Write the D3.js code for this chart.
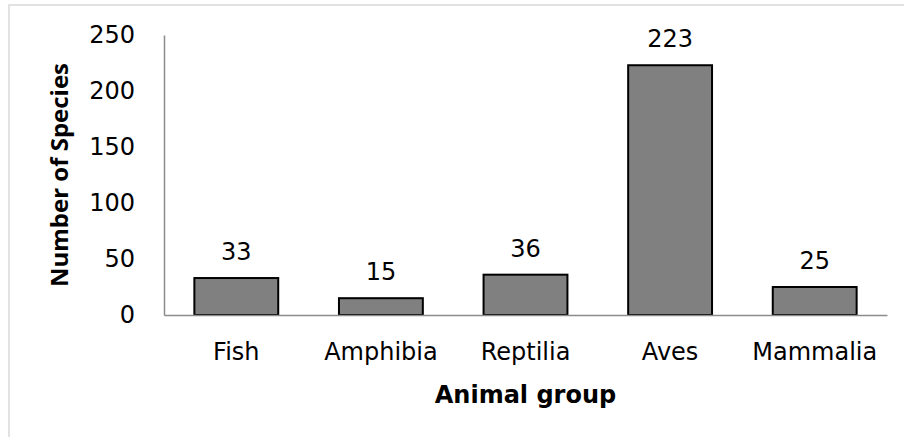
<!DOCTYPE html>
<html>
<head>
<meta charset="utf-8">
<script src="https://cdn.jsdelivr.net/npm/d3@7"></script>
<style>
  html, body { margin: 0; padding: 0; background: #ffffff; }
  svg { display: block; }
</style>
</head>
<body>
<div id="chart"></div>
<script>
// ---- data ----
const categories = ["Fish", "Amphibia", "Reptilia", "Aves", "Mammalia"];
const speciesCounts = [33, 15, 36, 223, 25];
const yTicks = [0, 50, 100, 150, 200, 250];
const xTitle = "Animal group";
const yTitle = "Number of Species";

// ---- layout ----
const W = 904, H = 437;
const plot = { left: 164, right: 887, top: 35, bottom: 315 };
const font = "'DejaVu Sans', sans-serif";
const fs = 24;

const svg = d3.select("#chart").append("svg")
  .attr("width", W).attr("height", H);

svg.append("rect").attr("width", W).attr("height", H).attr("fill", "#fff");

// chart-area frame (only top and left edges visible)
svg.append("rect")
  .attr("x", 9).attr("y", 5)
  .attr("width", W + 20).attr("height", H + 20)
  .attr("fill", "none").attr("stroke", "#d9d9d9").attr("stroke-width", 1.5);

const x = d3.scaleBand()
  .domain(categories)
  .range([plot.left, plot.right])
  .paddingInner(0.42)
  .paddingOuter(0.21);

const y = d3.scaleLinear()
  .domain([0, 250])
  .range([plot.bottom, plot.top]);

// y axis: line + labels, no ticks
const yAxis = d3.axisLeft(y).tickValues(yTicks).tickSize(0).tickPadding(29).tickFormat(d3.format("d"));
const gy = svg.append("g").attr("transform", `translate(${plot.left},0)`).call(yAxis);
gy.select(".domain").attr("stroke", "#8c8c8c").attr("stroke-width", 1.5);
gy.selectAll("text")
  .attr("font-family", font).attr("font-size", fs).attr("fill", "#000");

// bars
const data = categories.map((c, i) => ({ c, v: speciesCounts[i] }));
svg.append("g").selectAll("rect").data(data).join("rect")
  .attr("x", d => x(d.c))
  .attr("y", d => y(d.v))
  .attr("width", x.bandwidth())
  .attr("height", d => y(0) - y(d.v))
  .attr("fill", "#808080")
  .attr("stroke", "#000")
  .attr("stroke-width", 2);

// x axis: line + labels
const xAxis = d3.axisBottom(x).tickSize(0).tickPadding(28);
const gx = svg.append("g").attr("transform", `translate(0,${plot.bottom})`).call(xAxis);
gx.select(".domain").attr("stroke", "#8c8c8c").attr("stroke-width", 1.5);
gx.selectAll("text")
  .attr("font-family", font).attr("font-size", fs).attr("fill", "#000");

// data labels
svg.append("g").selectAll("text").data(data).join("text")
  .attr("x", d => x(d.c) + x.bandwidth() / 2)
  .attr("y", d => y(d.v) - 18)
  .attr("text-anchor", "middle")
  .attr("font-family", font).attr("font-size", fs).attr("fill", "#000")
  .text(d => d.v);

// axis titles
svg.append("text")
  .attr("x", (plot.left + plot.right) / 2)
  .attr("y", 403)
  .attr("text-anchor", "middle")
  .attr("font-family", font).attr("font-weight", "bold").attr("font-size", fs)
  .attr("fill", "#000")
  .text(xTitle);

svg.append("text")
  .attr("transform", `translate(68,${(plot.top + plot.bottom) / 2}) rotate(-90)`)
  .attr("text-anchor", "middle")
  .attr("font-family", "'Open Sans', sans-serif").attr("font-weight", "bold").attr("font-size", 24)
  .attr("fill", "#000")
  .text(yTitle);
</script>
</body>
</html>
